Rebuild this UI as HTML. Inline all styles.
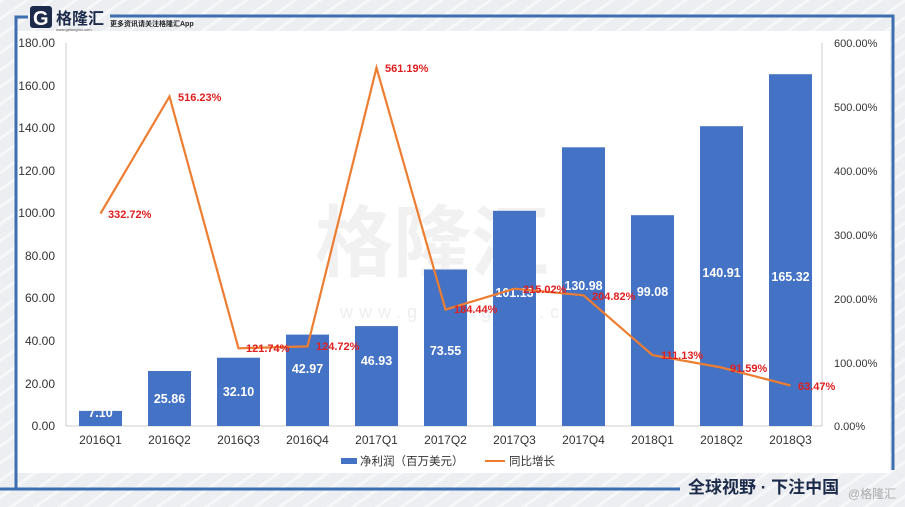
<!DOCTYPE html>
<html><head><meta charset="utf-8"><style>
html,body{margin:0;padding:0;width:905px;height:507px;overflow:hidden;background:#eef0f3;}
svg{display:block;font-family:"Liberation Sans","Noto Sans CJK SC",sans-serif;}
</style></head><body>
<svg width="905" height="507" viewBox="0 0 905 507">
<defs><pattern id="st" width="14" height="14" patternUnits="userSpaceOnUse" patternTransform="rotate(-35)"><rect width="14" height="14" fill="#eceef1"/><rect width="14" height="3" fill="#f6f7f9"/></pattern></defs>
<rect width="905" height="507" fill="url(#st)"/>
<rect x="16" y="31" width="874" height="442" fill="#fff"/>
<path d="M28 17 H16 V490" stroke="#3d6fb0" stroke-width="3" fill="none"/>
<path d="M110 16 H893 V470" stroke="#3d6fb0" stroke-width="3" fill="none"/>
<line x1="0" y1="489" x2="680" y2="489" stroke="#3d6fb0" stroke-width="3"/>
<rect x="30" y="6" width="22" height="22" rx="3" fill="#1d2b4a"/>
<text x="33" y="25" font-size="20" font-weight="bold" fill="#fff">G</text>
<text x="56" y="24" font-size="16" font-weight="bold" fill="#1d2b4a">格隆汇</text>
<text x="56" y="31" font-size="4" fill="#555">www.gelonghui.com</text>
<text x="110" y="26" font-size="7" font-weight="bold" fill="#222">更多资讯请关注格隆汇App</text>
<text x="315" y="270" font-size="78" fill="#f1f1f1" font-weight="bold">格隆汇</text>
<text x="340" y="318" font-size="18" fill="#eeeeee" letter-spacing="6">www.gelonghui.com</text>
<g font-size="12" fill="#333" text-anchor="end">
<text x="55" y="47">180.00</text><text x="55" y="90">160.00</text><text x="55" y="132">140.00</text><text x="55" y="175">120.00</text><text x="55" y="217">100.00</text><text x="55" y="260">80.00</text><text x="55" y="302">60.00</text><text x="55" y="345">40.00</text><text x="55" y="388">20.00</text><text x="55" y="430">0.00</text>
</g>
<g font-size="11" fill="#333" text-anchor="start">
<text x="834" y="47">600.00%</text><text x="834" y="111">500.00%</text><text x="834" y="175">400.00%</text><text x="834" y="239">300.00%</text><text x="834" y="303">200.00%</text><text x="834" y="367">100.00%</text><text x="834" y="430">0.00%</text>
</g>
<line x1="66" y1="43" x2="66" y2="426" stroke="#ccc"/>
<line x1="822" y1="43" x2="822" y2="426" stroke="#ccc"/>
<line x1="66" y1="426" x2="822" y2="426" stroke="#ccc"/>
<g fill="#4472c4">
<rect x="79" y="410.9" width="43" height="15.1"/>
<rect x="148" y="371" width="43" height="55"/>
<rect x="217" y="357.7" width="43" height="68.3"/>
<rect x="286" y="334.6" width="43" height="91.4"/>
<rect x="355" y="326.1" width="43" height="99.9"/>
<rect x="424" y="269.5" width="43" height="156.5"/>
<rect x="493" y="210.8" width="43" height="215.2"/>
<rect x="562" y="147.3" width="43" height="278.7"/>
<rect x="631" y="215.2" width="43" height="210.8"/>
<rect x="700" y="126.2" width="43" height="299.8"/>
<rect x="769" y="74.2" width="43" height="351.8"/>
</g>
<g font-size="12.5" font-weight="bold" fill="#fff" text-anchor="middle">
<text x="100.5" y="417">7.10</text><text x="169.5" y="403">25.86</text><text x="238.5" y="396">32.10</text><text x="307.5" y="373">42.97</text><text x="376.5" y="365">46.93</text><text x="445.5" y="355">73.55</text>
<text x="514.5" y="297">101.13</text><text x="583.5" y="290">130.98</text><text x="652.5" y="296">99.08</text><text x="721.5" y="277">140.91</text><text x="790.5" y="281">165.32</text>
</g>
<polyline fill="none" stroke="#ed7d31" stroke-width="2.2" points="100.5,213.6 169.5,96.5 238.5,348.3 307.5,346.4 376.5,67.8 445.5,309.6 514.5,288.7 583.5,295.3 652.5,355.1 721.5,367.5 790.5,385.5"/>
<g font-size="11" font-weight="bold" fill="#e02020">
<text x="108" y="218">332.72%</text><text x="178" y="101">516.23%</text><text x="246" y="352">121.74%</text><text x="316" y="350">124.72%</text><text x="385" y="72">561.19%</text><text x="454" y="313">184.44%</text><text x="523" y="293">215.02%</text><text x="592" y="300">204.82%</text><text x="661" y="359">111.13%</text><text x="730" y="372">91.59%</text><text x="798" y="390">63.47%</text>
</g>
<g font-size="12" fill="#333" text-anchor="middle">
<text x="100.5" y="444">2016Q1</text><text x="169.5" y="444">2016Q2</text><text x="238.5" y="444">2016Q3</text><text x="307.5" y="444">2016Q4</text><text x="376.5" y="444">2017Q1</text><text x="445.5" y="444">2017Q2</text><text x="514.5" y="444">2017Q3</text><text x="583.5" y="444">2017Q4</text><text x="652.5" y="444">2018Q1</text><text x="721.5" y="444">2018Q2</text><text x="790.5" y="444">2018Q3</text>
</g>
<rect x="341" y="458" width="16" height="6" fill="#4472c4"/>
<text x="360" y="465" font-size="11.5" fill="#333">净利润（百万美元）</text>
<line x1="485" y1="461" x2="505" y2="461" stroke="#ed7d31" stroke-width="2"/>
<text x="509" y="465" font-size="11.5" fill="#333">同比增长</text>
<text x="688" y="493" font-size="17" font-weight="bold" fill="#1d2b4a">全球视野 · 下注中国</text>
<text x="848" y="498" font-size="12" fill="#aaa">@格隆汇</text>
</svg>
</body></html>
